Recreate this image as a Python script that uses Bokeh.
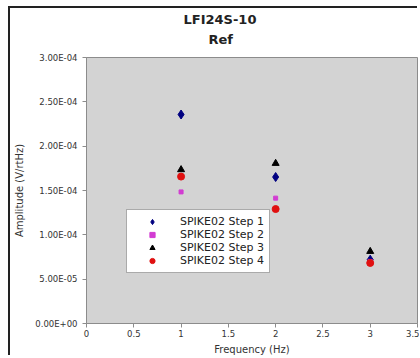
from bokeh.plotting import figure
from bokeh.models import (Title, Legend, LegendItem, FixedTicker, CustomJSTickFormatter, Range1d)
from bokeh.embed import file_html
from bokeh.resources import INLINE

freq = [1, 2, 3]
step1 = [2.357e-4, 1.652e-4, 7.20e-5]
step2 = [1.484e-4, 1.414e-4, 7.00e-5]
step3 = [1.735e-4, 1.806e-4, 8.13e-5]
step4 = [1.657e-4, 1.291e-4, 6.83e-5]
series_names = ["SPIKE02 Step 1", "SPIKE02 Step 2", "SPIKE02 Step 3", "SPIKE02 Step 4"]
x_ticks = [0, 0.5, 1, 1.5, 2, 2.5, 3, 3.5]
y_ticks = [0, 5e-5, 1e-4, 1.5e-4, 2e-4, 2.5e-4, 3e-4]

FONT = "DejaVu Sans"

p = figure(width=409, height=349, output_backend="svg", toolbar_location=None,
           x_range=Range1d(0, 3.5), y_range=Range1d(0, 3e-4),
           min_border_left=76, min_border_right=2, min_border_top=49, min_border_bottom=32)
p.background_fill_color = "#d3d3d3"
p.border_fill_color = "white"
p.outline_line_color = "#8c8c8c"
p.outline_line_width = 1
p.xgrid.visible = False
p.ygrid.visible = False

for ax in (p.xaxis[0], p.yaxis[0]):
    ax.axis_line_color = "#8c8c8c"
    ax.major_tick_line_color = "#8c8c8c"
    ax.minor_tick_line_color = None
    ax.major_tick_in = 0
    ax.major_tick_out = 4
    ax.major_label_text_font = FONT
    ax.major_label_text_font_size = "8.5px"
    ax.major_label_text_color = "#333333"
    ax.axis_label_text_font = FONT
    ax.axis_label_text_font_size = "10px"
    ax.axis_label_text_font_style = "normal"
    ax.axis_label_text_color = "#333333"

p.xaxis.ticker = FixedTicker(ticks=x_ticks)
p.yaxis.ticker = FixedTicker(ticks=y_ticks)
p.xaxis.formatter = CustomJSTickFormatter(code="return String(tick);")
p.yaxis.formatter = CustomJSTickFormatter(code="""
const s = tick.toExponential(2);
const parts = s.split('e');
const sign = parts[1][0];
const d = parts[1].slice(1).padStart(2, '0');
return parts[0] + 'E' + sign + d;
""")
p.xaxis.axis_label = "Frequency (Hz)"
p.yaxis.axis_label = "Amplitude (V/rtHz)"
p.xaxis.major_label_standoff = 2
p.xaxis.axis_label_standoff = 4
p.yaxis.major_label_standoff = 5
p.yaxis.axis_label_standoff = 7

r1 = p.scatter(freq, step1, marker="diamond", size=9, color="#000080")
r2 = p.scatter(freq, step2, marker="square", size=4, color="#d23cd2")
r3 = p.scatter(freq, step3, marker="triangle", size=7, color="black")
r4 = p.scatter(freq, step4, marker="circle", size=7, color="#e01010")

legend = Legend(items=[LegendItem(label=n, renderers=[r]) for n, r in zip(series_names, [r1, r2, r3, r4])],
                location=(40, 50), orientation="vertical",
                label_text_font=FONT, label_text_font_size="11px", label_text_color="#222222",
                label_height=13, glyph_height=13, glyph_width=40, label_standoff=8,
                spacing=0, padding=5, margin=0,
                border_line_color="#555555", border_line_width=1,
                background_fill_color="white", background_fill_alpha=1)
p.add_layout(legend, "center")

p.add_layout(Title(text="Ref", align="left", offset=122, vertical_align="top",
                   text_font=FONT, text_font_size="13px", text_font_style="bold",
                   text_color="#222222", standoff=18), "above")
p.add_layout(Title(text="LFI24S-10", align="left", offset=97, vertical_align="bottom",
                   text_font=FONT, text_font_size="13px", text_font_style="bold",
                   text_color="#222222", standoff=-8), "above")

p.styles = {"margin-left": "10px", "margin-top": "8px", "box-shadow": "-2px -2px 0 0 #222"}

open("out.html", "w").write(file_html(p, INLINE))
